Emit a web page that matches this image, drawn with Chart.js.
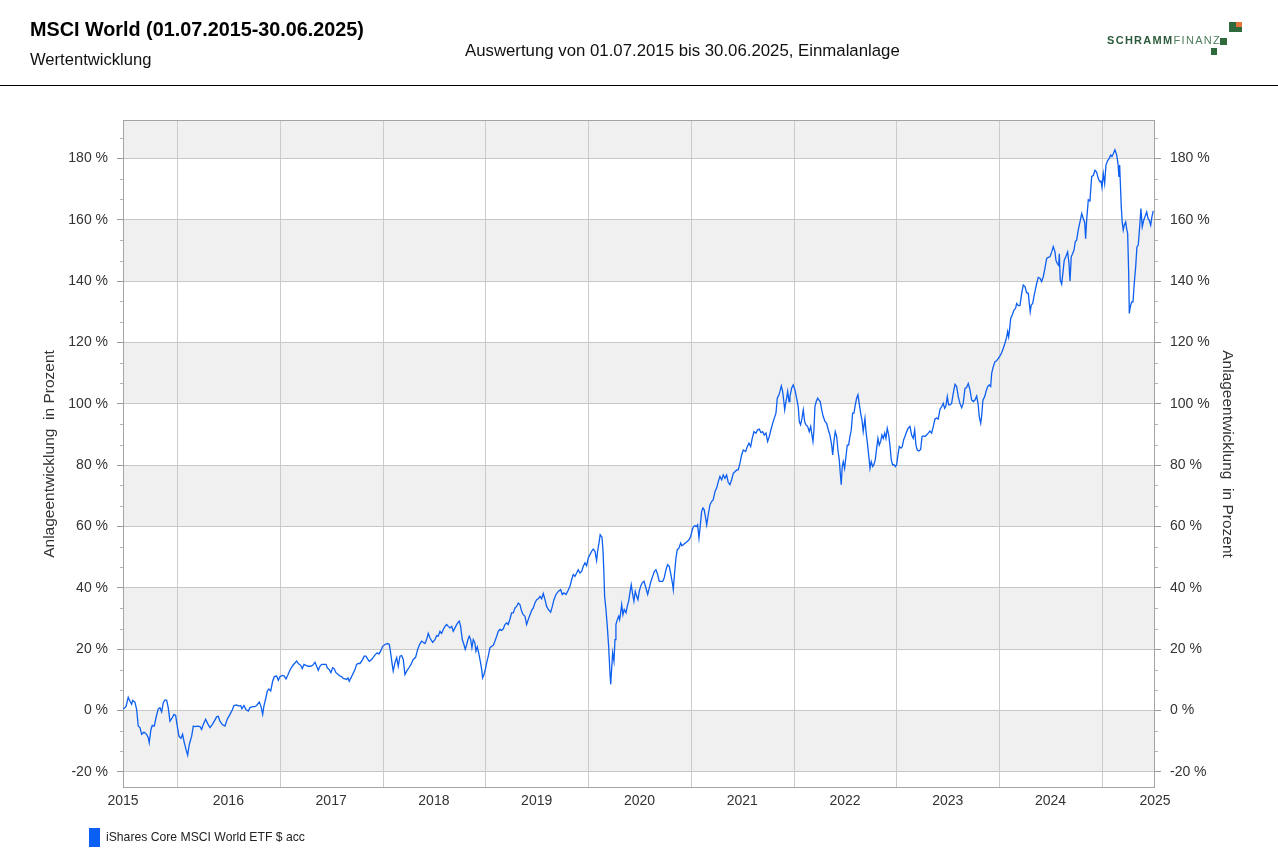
<!DOCTYPE html>
<html><head><meta charset="utf-8">
<script src="https://cdn.jsdelivr.net/npm/chart.js@4.4.1/dist/chart.umd.min.js"></script>
<style>
html,body{margin:0;padding:0;background:#fff;width:1278px;height:853px;overflow:hidden;font-family:"Liberation Sans",Arial,sans-serif;}
#c{position:absolute;left:0;top:0;}
.t{position:absolute;white-space:pre;}
#title{left:30px;top:18px;font-size:19.8px;font-weight:bold;color:#000;}
#sub{left:30px;top:50px;font-size:16.6px;color:#111;}
#center{left:465px;top:41px;font-size:16.8px;color:#111;}
#rule{position:absolute;left:0;top:85px;width:1278px;height:1px;background:#000;}
#logo{left:1107px;top:34px;font-size:11px;letter-spacing:1.3px;}
#logo b{color:#2c5b3b;}
#logo span{color:#4f7d5b;}
.sq{position:absolute;background:#2e6a3c;}
#legbox{position:absolute;left:89px;top:828px;width:11px;height:19px;background:#0a5ff5;}
#legtxt{left:106px;top:830px;font-size:12.2px;color:#222;}
</style></head>
<body>
<canvas id="c" width="1278" height="853"></canvas>
<div class="t" id="title">MSCI World (01.07.2015-30.06.2025)</div>
<div class="t" id="sub">Wertentwicklung</div>
<div class="t" id="center">Auswertung von 01.07.2015 bis 30.06.2025, Einmalanlage</div>
<div id="rule"></div>
<div class="t" id="logo"><b>SCHRAMM</b><span>FINANZ</span></div>
<div class="sq" style="left:1229px;top:22px;width:13px;height:10px;"></div>
<div class="sq" style="left:1236px;top:22px;width:6px;height:5px;background:#e3743a;"></div>
<div class="sq" style="left:1220px;top:38px;width:7px;height:7px;"></div>
<div class="sq" style="left:1211px;top:48px;width:6px;height:7px;"></div>
<div id="legbox"></div>
<div class="t" id="legtxt">iShares Core MSCI World ETF $ acc</div>
<script>
const seriesName = 'iShares Core MSCI World ETF $ acc';
const axisTitle = 'Anlageentwicklung  in Prozent';
const yTickValues = [-20, 0, 20, 40, 60, 80, 100, 120, 140, 160, 180];
const xYears = [2015, 2016, 2017, 2018, 2019, 2020, 2021, 2022, 2023, 2024, 2025];

// decimal-year dates and value (%) per segment
const dates2015 = [
2015.478,2015.504,2015.526,2015.543,2015.559,2015.569,2015.591,2015.608,2015.623,2015.640,
2015.657,2015.679,2015.705,2015.721,2015.730,2015.747,2015.760,2015.779,2015.796,2015.818,
2015.835,2015.851,2015.867,2015.883,2015.900,2015.915,2015.932,2015.954,2015.971,2015.987,
2016.003,2016.019,2016.039,2016.055,2016.071,2016.088,2016.104,2016.120,2016.143,2016.159,
2016.175,2016.198,2016.224,2016.240,2016.256,2016.279,2016.299,2016.321,2016.343,2016.363,
2016.386,2016.402,2016.418,2016.441,2016.467,2016.489,2016.516,2016.538,2016.555,2016.581,
2016.600,2016.620,2016.632,2016.652,2016.671,2016.694,2016.710,2016.737,2016.759,2016.775,
2016.801,2016.817,2016.834,2016.846,2016.863,2016.879,2016.895,2016.912,2016.931,2016.947,
2016.970,2016.986,2017.002,2017.025,2017.044,2017.061,2017.077,2017.099,2017.122,2017.141,
2017.165,2017.180,2017.204,2017.219,2017.236,2017.255,2017.278,2017.301,2017.320,2017.343,
2017.359,2017.375];
const values2015 = [
0.5,1.2,4.3,3.0,2.0,3.3,2.7,0.3,-5.1,-5.6,
-7.8,-7.1,-7.8,-8.9,-10.5,-6.2,-4.9,-5.1,-2.4,0.5,
0.9,-0.5,2.5,3.4,3.3,0.9,-3.5,-2.4,-1.3,-1.6,
-5.1,-8.4,-9.1,-7.8,-10.5,-12.7,-14.6,-11.1,-8.4,-5.1,
-5.3,-5.1,-5.3,-6.2,-4.6,-2.9,-4.3,-5.6,-4.6,-3.5,
-2.1,-1.9,-3.5,-4.6,-5.1,-2.9,-1.3,0.1,1.6,1.8,
1.4,1.6,0.5,1.6,0.3,-0.2,0.9,1.2,1.2,1.6,
2.7,1.4,-1.3,1.4,3.8,6.3,7.0,6.3,9.5,11.0,
11.2,9.8,11.0,11.4,11.2,10.3,11.4,13.1,14.4,15.2,
16.1,15.3,14.7,13.6,15.0,14.7,14.4,14.4,14.7,15.7,
14.4,13.1];

const dates2017 = [
2017.391,2017.408,2017.430,2017.450,2017.462,2017.482,2017.498,2017.515,2017.530,2017.547,
2017.569,2017.586,2017.602,2017.618,2017.635,2017.651,2017.664,2017.676,2017.693,2017.709,
2017.732,2017.748,2017.764,2017.781,2017.803,2017.822,2017.839,2017.855,2017.871,2017.894,
2017.910,2017.929,2017.949,2017.965,2017.982,2018.001,2018.024,2018.050,2018.066,2018.079,
2018.092,2018.104,2018.121,2018.138,2018.153,2018.170,2018.186,2018.202,2018.218,2018.235,
2018.257,2018.277,2018.299,2018.322,2018.342,2018.364,2018.381,2018.396,2018.413,2018.429,
2018.445,2018.462,2018.488,2018.510,2018.527,2018.542,2018.559,2018.575,2018.591,2018.608,
2018.624,2018.640,2018.656,2018.673,2018.688,2018.712,2018.731,2018.747,2018.760,2018.776,
2018.792,2018.805,2018.819,2018.831,2018.844,2018.858,2018.870,2018.883,2018.899,2018.909,
2018.922,2018.935,2018.948,2018.965,2018.974,2018.987,2019.000,2019.013,2019.029,2019.045,
2019.062,2019.078,2019.094,2019.111,2019.126,2019.143,2019.159,2019.175,2019.191,2019.208,
2019.223,2019.240,2019.256,2019.272,2019.289,2019.305,2019.321,2019.337,2019.354,2019.369,
2019.386,2019.402,2019.418];
const values2017 = [
14.4,15.0,15.0,15.0,13.9,13.3,12.3,13.9,13.6,12.3,
11.7,11.2,11.0,10.4,10.3,10.1,10.6,9.5,10.6,11.7,
13.3,15.0,15.3,15.3,16.4,17.7,17.7,16.8,16.0,16.6,
17.3,18.2,18.8,18.4,19.3,20.9,21.5,21.8,21.5,18.8,
15.5,12.8,15.5,17.2,14.4,17.7,17.9,16.6,11.7,12.8,
13.9,15.0,16.6,17.3,19.9,21.7,22.6,22.2,21.8,23.1,
25.1,23.6,22.2,23.1,24.4,24.2,25.8,25.1,26.4,27.4,
28.0,27.4,26.9,27.4,25.8,27.4,28.5,29.1,27.4,23.1,
21.5,19.9,21.5,23.1,24.2,23.1,20.4,23.1,22.0,19.3,
20.7,18.8,16.6,13.3,10.6,11.7,13.3,15.5,17.7,20.4,
20.9,21.2,22.6,24.2,25.8,26.4,26.1,26.6,28.0,28.5,
28.0,29.8,31.8,31.8,33.4,33.9,35.0,34.5,32.3,31.2,
30.7,28.0,29.6];

const dates2019 = [
2019.435,2019.451,2019.467,2019.483,2019.500,2019.515,2019.532,2019.548,2019.564,2019.581,
2019.597,2019.613,2019.636,2019.652,2019.668,2019.688,2019.710,2019.733,2019.749,2019.765,
2019.785,2019.801,2019.824,2019.840,2019.856,2019.872,2019.889,2019.904,2019.921,2019.938,
2019.953,2019.970,2019.986,2020.002,2020.018,2020.035,2020.050,2020.067,2020.083,2020.093,
2020.106,2020.118,2020.135,2020.145,2020.154,2020.161,2020.174,2020.187,2020.200,2020.213,
2020.220,2020.229,2020.239,2020.252,2020.262,2020.271,2020.284,2020.298,2020.307,2020.317,
2020.327,2020.339,2020.352,2020.369,2020.381,2020.395,2020.407,2020.420,2020.434,2020.446,
2020.459,2020.473,2020.485,2020.498,2020.512,2020.527,2020.544,2020.563,2020.580,2020.595,
2020.612,2020.628,2020.644,2020.660,2020.677,2020.693,2020.709,2020.726,2020.741,2020.758,
2020.774,2020.790,2020.806,2020.823,2020.829,2020.842,2020.855,2020.868,2020.884,2020.901,
2020.913,2020.926,2020.946,2020.965,2020.984,2020.998,2021.014,2021.027,2021.040,2021.056,
2021.066,2021.079,2021.091,2021.105,2021.118,2021.130,2021.144,2021.154,2021.169,2021.186,
2021.202,2021.218,2021.235,2021.251,2021.267,2021.283,2021.300,2021.315,2021.332,2021.348,
2021.364,2021.380,2021.397,2021.413,2021.429,2021.446,2021.461];
const values2019 = [
31.2,32.6,33.4,35.0,36.1,36.4,37.2,36.4,38.1,36.1,
33.9,32.9,32.0,33.9,36.1,37.8,38.8,39.4,37.8,38.3,
37.8,38.8,40.5,42.6,44.3,43.7,44.8,45.9,44.8,45.3,
47.0,48.1,47.2,49.7,50.8,51.9,52.6,51.9,48.9,51.9,
54.6,57.3,56.5,52.4,44.8,37.2,32.9,27.4,20.9,12.3,
8.5,13.3,18.8,16.0,23.1,28.0,29.6,30.7,29.6,31.8,
34.5,31.2,32.9,31.8,33.9,35.6,38.3,41.0,37.8,35.6,
38.8,37.2,36.1,38.8,40.5,41.6,42.1,39.9,37.8,39.9,
42.1,43.7,45.3,45.9,44.3,42.1,42.1,42.1,43.2,45.9,
47.5,47.0,44.3,41.0,39.4,44.8,49.7,52.4,52.9,54.6,
53.7,54.0,54.6,55.1,55.7,56.7,58.9,60.0,60.2,60.0,
60.5,56.2,60.0,64.9,66.0,65.4,62.7,60.5,63.8,67.1,
68.1,68.7,71.4,72.5,74.6,76.3,75.2,76.8,75.7,76.8,
74.3,73.6,75.2,77.3,77.8,78.4,78.4];

const dates2021 = [
2021.478,2021.494,2021.510,2021.533,2021.549,2021.565,2021.582,2021.597,2021.614,2021.633,
2021.650,2021.666,2021.682,2021.699,2021.714,2021.731,2021.747,2021.763,2021.779,2021.796,
2021.812,2021.828,2021.841,2021.857,2021.867,2021.880,2021.893,2021.903,2021.913,2021.922,
2021.932,2021.942,2021.955,2021.964,2021.981,2021.996,2022.013,2022.029,2022.045,2022.055,
2022.068,2022.081,2022.094,2022.107,2022.120,2022.136,2022.152,2022.166,2022.178,2022.188,
2022.198,2022.207,2022.220,2022.234,2022.246,2022.259,2022.273,2022.288,2022.305,2022.321,
2022.337,2022.353,2022.370,2022.380,2022.392,2022.405,2022.419,2022.431,2022.444,2022.454,
2022.463,2022.473,2022.483,2022.496,2022.509,2022.522,2022.535,2022.548,2022.561,2022.574,
2022.587,2022.600,2022.613,2022.626,2022.638,2022.652,2022.665,2022.677,2022.694,2022.704,
2022.716,2022.730,2022.743,2022.755,2022.769,2022.781,2022.794,2022.808,2022.820,2022.833,
2022.847,2022.859,2022.872,2022.886,2022.898,2022.911,2022.925,2022.937,2022.950,2022.963,
2022.976,2022.989,2023.002,2023.015,2023.028,2023.044,2023.057,2023.070,2023.083,2023.100,
2023.115,2023.132,2023.148,2023.164,2023.178,2023.190,2023.203,2023.219,2023.236,2023.249,
2023.261,2023.278,2023.294,2023.310,2023.326,2023.343,2023.359,2023.375,2023.392,2023.407,
2023.424,2023.440,2023.456,2023.469,2023.482,2023.495,2023.508];
const values2021 = [
80.6,83.3,84.9,84.4,86.0,87.1,86.0,88.7,90.9,90.4,
91.5,91.7,90.6,90.9,89.8,90.4,87.7,89.3,91.5,93.6,
95.3,96.9,101.8,102.9,104.0,105.8,104.0,101.2,98.0,100.1,
101.8,104.0,100.7,102.3,105.1,106.1,104.5,101.8,99.0,94.2,
93.1,95.2,98.0,94.2,93.1,92.6,90.9,92.6,89.8,87.7,
91.5,99.0,100.7,101.8,101.2,100.7,98.0,95.8,94.2,93.6,
91.5,89.8,86.5,83.3,87.7,90.9,89.3,84.9,81.7,77.3,
73.6,79.5,81.1,78.9,82.8,86.5,86.5,89.3,91.5,96.9,
96.9,99.6,101.8,102.9,100.1,96.9,94.7,90.9,95.2,90.9,
87.7,83.3,78.9,81.1,79.5,80.1,81.7,85.5,88.7,86.5,
87.7,89.8,88.7,90.4,88.7,92.0,89.8,86.5,81.7,80.1,
80.1,79.5,80.1,83.3,86.0,85.5,86.0,88.2,89.3,90.9,
92.0,92.6,89.8,88.7,91.5,86.5,84.9,84.6,85.1,89.3,
89.5,89.3,89.8,90.4,91.1,90.4,92.6,95.0,95.3,95.0,
98.2,99.0,100.1,98.5,99.3,102.3,99.6];

const dates2023 = [
2023.521,2023.537,2023.553,2023.570,2023.586,2023.602,2023.618,2023.635,2023.650,2023.667,
2023.683,2023.699,2023.716,2023.732,2023.748,2023.764,2023.781,2023.796,2023.806,2023.820,
2023.829,2023.842,2023.859,2023.871,2023.888,2023.903,2023.917,2023.927,2023.942,2023.959,
2023.975,2023.991,2024.008,2024.024,2024.040,2024.056,2024.073,2024.082,2024.092,2024.102,
2024.112,2024.127,2024.144,2024.160,2024.170,2024.186,2024.202,2024.219,2024.234,2024.251,
2024.267,2024.283,2024.293,2024.302,2024.312,2024.326,2024.338,2024.351,2024.365,2024.380,
2024.397,2024.413,2024.429,2024.445,2024.462,2024.478,2024.494,2024.511,2024.526,2024.543,
2024.552,2024.565,2024.579,2024.585,2024.594,2024.608,2024.621,2024.633,2024.650,2024.666,
2024.679,2024.689,2024.701,2024.715,2024.728,2024.740,2024.754,2024.769,2024.786,2024.803,
2024.818,2024.832,2024.841,2024.851,2024.867,2024.883,2024.900,2024.915,2024.932,2024.948,
2024.964,2024.981,2024.990,2025.000,2025.013,2025.026,2025.039,2025.055,2025.071,2025.085,
2025.097,2025.110,2025.126,2025.143,2025.156,2025.165,2025.172,2025.178,2025.188,2025.197,
2025.207,2025.217,2025.231,2025.240,2025.250,2025.260,2025.266,2025.275,2025.289,2025.302,
2025.314,2025.328,2025.340,2025.353,2025.367,2025.379,2025.392,2025.406,2025.418,2025.435,
2025.448,2025.460,2025.474,2025.486,2025.499];
const values2023 = [
99.6,100.1,103.4,106.3,105.6,102.3,100.1,98.7,100.1,105.0,
105.3,106.6,104.5,101.2,100.7,101.2,102.5,99.6,95.8,93.6,
95.8,101.2,102.3,103.9,105.6,106.1,105.6,109.9,112.0,113.7,
114.0,114.8,115.6,116.6,118.1,119.7,121.8,123.5,121.8,124.5,
127.8,128.9,130.5,131.1,132.7,132.0,132.0,136.0,138.7,138.2,
136.2,136.0,132.7,130.0,132.2,132.7,134.9,137.0,139.2,141.2,
140.9,139.8,141.4,144.1,147.4,147.7,147.9,149.5,151.2,149.5,
146.8,145.7,145.1,148.9,140.3,139.0,143.0,146.8,148.1,149.5,
145.7,140.0,147.9,149.0,150.1,152.8,153.4,156.6,159.3,162.0,
160.4,159.0,153.8,159.8,166.5,166.1,174.1,174.4,176.1,175.5,
173.4,172.3,172.8,170.6,175.0,171.8,177.8,179.3,180.0,181.1,
180.6,181.5,182.8,181.1,178.3,173.9,177.8,172.8,164.1,159.3,
156.6,158.2,159.3,157.1,155.5,142.5,129.4,131.5,133.2,133.2,
139.2,144.6,151.1,151.7,157.7,163.6,157.7,159.8,160.9,162.5,
160.4,159.8,158.2,160.9,162.9];

const dates = [].concat(dates2015, dates2017, dates2019, dates2021, dates2023);
const values = [].concat(values2015, values2017, values2019, values2021, values2023);
const points = dates.map((d, i) => ({ x: d, y: values[i] }));

const FONT = '"Liberation Sans", Arial, sans-serif';
Chart.defaults.font.family = FONT;

const decor = {
  id: 'decor',
  beforeDraw(chart) {
    const { ctx, chartArea: a, scales: { x, y } } = chart;
    ctx.save();
    ctx.fillStyle = '#f0f0f0';
    for (let v = yTickValues[0]; v < y.max; v += 40) {
      const top = y.getPixelForValue(Math.min(v + 20, y.max));
      const bot = y.getPixelForValue(v);
      ctx.fillRect(a.left, top, a.right - a.left, bot - top);
    }
    ctx.strokeStyle = '#cbcbcb';
    ctx.lineWidth = 1;
    for (let yr = Math.ceil(x.min); yr <= x.max; yr++) {
      const px = Math.round(x.getPixelForValue(yr)) + 0.5;
      ctx.beginPath(); ctx.moveTo(px, a.top); ctx.lineTo(px, a.bottom); ctx.stroke();
    }
    ctx.restore();
  },
  beforeDatasetsDraw(chart) {
    const { ctx, chartArea: a, scales: { y } } = chart;
    ctx.save();
    ctx.strokeStyle = '#b4b4b4';
    ctx.lineWidth = 1;
    for (let k = -6; ; k++) {
      const v = k * 20 / 3;
      if (v > y.max) break;
      if (v < y.min || k % 3 === 0) continue;
      const py = Math.round(y.getPixelForValue(v)) + 0.5;
      ctx.beginPath(); ctx.moveTo(a.left - 3, py); ctx.lineTo(a.left, py); ctx.stroke();
      ctx.beginPath(); ctx.moveTo(a.right, py); ctx.lineTo(a.right + 3, py); ctx.stroke();
    }
    ctx.strokeStyle = '#a4a4a4';
    ctx.strokeRect(Math.round(a.left) + 0.5, Math.round(a.top) + 0.5, Math.round(a.right - a.left) - 1, Math.round(a.bottom - a.top) - 1);
    ctx.restore();
  }
};

const yAxisCommon = {
  min: -25.3, max: 192.5,
  afterBuildTicks: s => { s.ticks = yTickValues.map(v => ({ value: v })); },
  border: { display: false },
  ticks: { padding: 9, color: '#333', font: { size: 14 }, callback: v => v + ' %' },
  title: { display: true, text: axisTitle, color: '#333', font: { size: 15.5 }, padding: { top: 4, bottom: 4 } }
};

new Chart(document.getElementById('c'), {
  type: 'line',
  data: { datasets: [{ label: seriesName, data: points, borderColor: '#0d5ff0', borderWidth: 1.3, pointRadius: 0, tension: 0, fill: false }] },
  options: {
    responsive: false, animation: false, devicePixelRatio: 1,
    parsing: false, normalized: true,
    layout: { padding: { left: 36, right: 37, top: 120, bottom: 35 } },
    plugins: { legend: { display: false }, tooltip: { enabled: false } },
    scales: {
      x: {
        type: 'linear', min: 2015.475, max: 2025.516,
        grid: { display: false, drawTicks: false }, border: { display: false },
        afterBuildTicks: s => {
          const t = [{ value: s.min }];
          for (let i = 1; i < xYears.length - 1; i++) t.push({ value: xYears[i] + 0.5 });
          t.push({ value: s.max });
          s.ticks = t;
        },
        ticks: { autoSkip: false, maxRotation: 0, padding: 5, color: '#333', font: { size: 14 }, callback: v => String(Math.floor(v)) },
        afterFit: s => { s.height = 30; }
      },
      y: Object.assign({}, yAxisCommon, {
        position: 'left',
        grid: { color: '#c8c8c8', tickColor: '#9a9a9a', tickLength: 6 },
        afterFit: s => { s.width = 87; }
      }),
      y2: Object.assign({}, yAxisCommon, {
        position: 'right',
        grid: { drawOnChartArea: false, color: '#c8c8c8', tickColor: '#9a9a9a', tickLength: 6 },
        afterFit: s => { s.width = 86; }
      })
    }
  },
  plugins: [decor]
});
</script>
</body></html>
